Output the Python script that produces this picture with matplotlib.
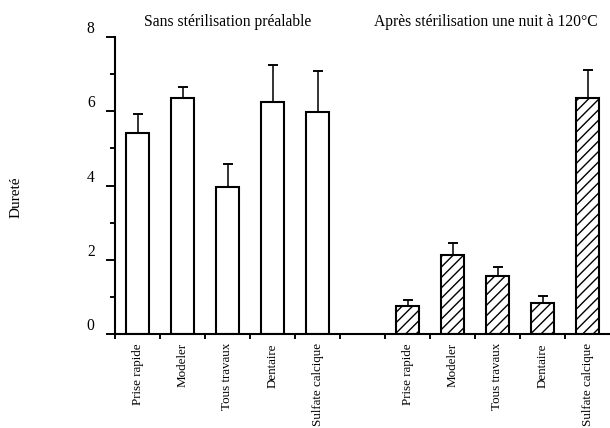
import numpy as np
import matplotlib
matplotlib.use("Agg")
import matplotlib.pyplot as plt
from matplotlib.transforms import ScaledTranslation

plt.rcParams['font.family'] = ['Liberation Serif', 'DejaVu Serif']
plt.rcParams['hatch.linewidth'] = 0.8

# plaster types, before / after overnight sterilisation at 120 C
types = ["Prise rapide", "Modeler", "Tous travaux", "Dentaire", "Sulfate calcique"]
before = [5.42, 6.36, 3.96, 6.25, 5.98]
before_err = [0.51, 0.30, 0.62, 1.00, 1.11]
after = [0.75, 2.13, 1.56, 0.83, 6.36]
after_err = [0.17, 0.32, 0.25, 0.19, 0.75]
title_before = "Sans stérilisation préalable"
title_after = "Après stérilisation une nuit à 120°C"

dpi = 125
fig = plt.figure(figsize=(610 / dpi, 428 / dpi), dpi=dpi)
ax = fig.add_axes([115 / 610, 94 / 428, 1 - 115 / 610, 297 / 428])

x1 = np.arange(len(types))
x2 = x1 + len(types) + 1
w = 0.5

ax.bar(x1, before, w, color="white", edgecolor="black", linewidth=1.2,
       yerr=[np.zeros(len(before)), before_err], capsize=3,
       error_kw=dict(elinewidth=0.9, capthick=1.1, ecolor="black"))
ax.bar(x2, after, w, color="white", edgecolor="black", linewidth=1.2,
       hatch="////",
       yerr=[np.zeros(len(after)), after_err], capsize=3,
       error_kw=dict(elinewidth=0.9, capthick=1.1, ecolor="black"))

ax.set_xlim(-0.5, x2[-1] + 0.5)
ax.set_ylim(0, 8)

for s in ["top", "right"]:
    ax.spines[s].set_visible(False)
for s in ["left", "bottom"]:
    ax.spines[s].set_linewidth(1.2)

# category labels under bars, tick marks between bars
ax.set_xticks(np.concatenate([x1, x2]))
ax.set_xticklabels(types + types, rotation=90, fontsize=7.5, va="top")
ax.set_xticks(np.arange(-0.5, x2[-1], 1.0), minor=True)
ax.tick_params(axis="x", which="major", length=0, pad=5.2)
ax.tick_params(axis="x", which="minor", length=3, width=1.1, direction="out")

ax.set_yticks([0, 2, 4, 6, 8])
ax.set_yticks([1, 3, 5, 7], minor=True)
ax.tick_params(axis="y", which="major", length=5.2, width=1.1, pad=6.5,
               labelsize=9)
ax.tick_params(axis="y", which="minor", length=2.9, width=1.1)
shift = ScaledTranslation(0, 10 / dpi, fig.dpi_scale_trans)
for lab in ax.get_yticklabels():
    lab.set_transform(lab.get_transform() + shift)

ax.text(2, 1.052, title_before, transform=ax.get_xaxis_transform(),
        ha="center", va="center", fontsize=9)
ax.text(7.75, 1.052, title_after, transform=ax.get_xaxis_transform(),
        ha="center", va="center", fontsize=9)

fig.text(16 / 610, 1 - 197 / 428, "Dureté", rotation=90,
         ha="center", va="center", fontsize=8.8)

fig.savefig("out.png", dpi=dpi)
